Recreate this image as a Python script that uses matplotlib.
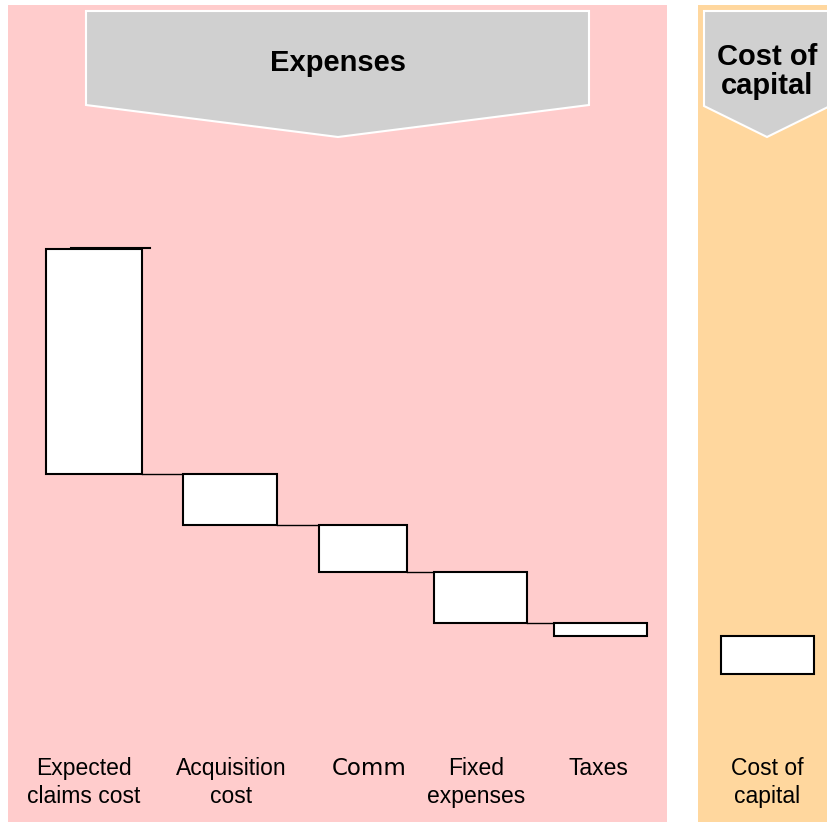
import matplotlib.pyplot as plt
from matplotlib.patches import Rectangle, Polygon

# Premium build-up (share of total premium)
categories = ['Expected\nclaims cost', 'Acquisition\ncost', 'Comm', 'Fixed\nexpenses', 'Taxes', 'Cost of\ncapital']
values = [53, 12, 11, 12, 3, 9]
groups = ['Expenses', 'Cost of\ncapital']

# layout in pixel units of the canvas
bar_x = [94, 230, 362.5, 480.5, 600.5, 767.5]
bar_w = [96, 94, 88, 93, 93, 93]
label_x = [84, 231, 369, 476, 598, 767]

W, H = 827, 825
fig = plt.figure(figsize=(W / 100, H / 100), dpi=100)
ax = fig.add_axes([0, 0, 1, 1])
ax.set_xlim(0, W)
ax.set_ylim(H, 0)
ax.axis('off')

pink = '#ffcccc'
orange = '#ffd79e'
grey = '#d0d0d0'

# section backgrounds
ax.add_patch(Rectangle((8, 5), 659, 817, facecolor=pink, edgecolor='none'))
ax.add_patch(Rectangle((698, 5), 140, 817, facecolor=orange, edgecolor='none'))

# chevron banners
ax.add_patch(Polygon([(86, 11), (589, 11), (589, 105), (338, 137), (86, 105)],
                     closed=True, facecolor=grey, edgecolor='white', lw=1.5))
ax.add_patch(Polygon([(704, 11), (830, 11), (830, 106), (767, 137), (704, 106)],
                     closed=True, facecolor=grey, edgecolor='white', lw=1.5))


def lines_at(x, y0, step, text, **kw):
    # one text object per line so every first line shares the same baseline
    for j, line in enumerate(text.split('\n')):
        ax.text(x, y0 + j * step, line, ha='center', va='baseline', **kw)


lines_at(338, 71, 29, groups[0], fontsize=21, fontweight='bold', family='Liberation Sans')
lines_at(767, 65, 29, groups[1], fontsize=21, fontweight='bold', family='Liberation Sans')

# category labels
for i, lab in enumerate(categories):
    fam = 'DejaVu Sans' if lab == 'Comm' else 'Liberation Sans'
    lines_at(label_x[i], 775, 28, lab, fontsize=16.5, family=fam)

# waterfall bars on a value axis (0 at top, growing downward)
ax2 = ax.twinx()
scale = 4.25
ax2.set_ylim((H - 249) / scale, -249 / scale)
ax2.axis('off')

bottoms = []
cum = 0
for v in values:
    bottoms.append(cum)
    cum += v

for i, v in enumerate(values):
    ax2.bar(bar_x[i], v, bottom=bottoms[i], width=bar_w[i], color='white',
            edgecolor='black', linewidth=1.5, zorder=3)

# connectors between consecutive expense bars
ax2.plot([71, 150], [-0.15, -0.15], color='black', lw=1.5, zorder=4)
for i in range(4):
    level = bottoms[i] + values[i]
    x0 = bar_x[i] + bar_w[i] / 2
    x1 = bar_x[i + 1] - bar_w[i + 1] / 2
    ax2.plot([x0, x1], [level, level], color='black', lw=1, zorder=2)

fig.savefig('out.png', dpi=100)
